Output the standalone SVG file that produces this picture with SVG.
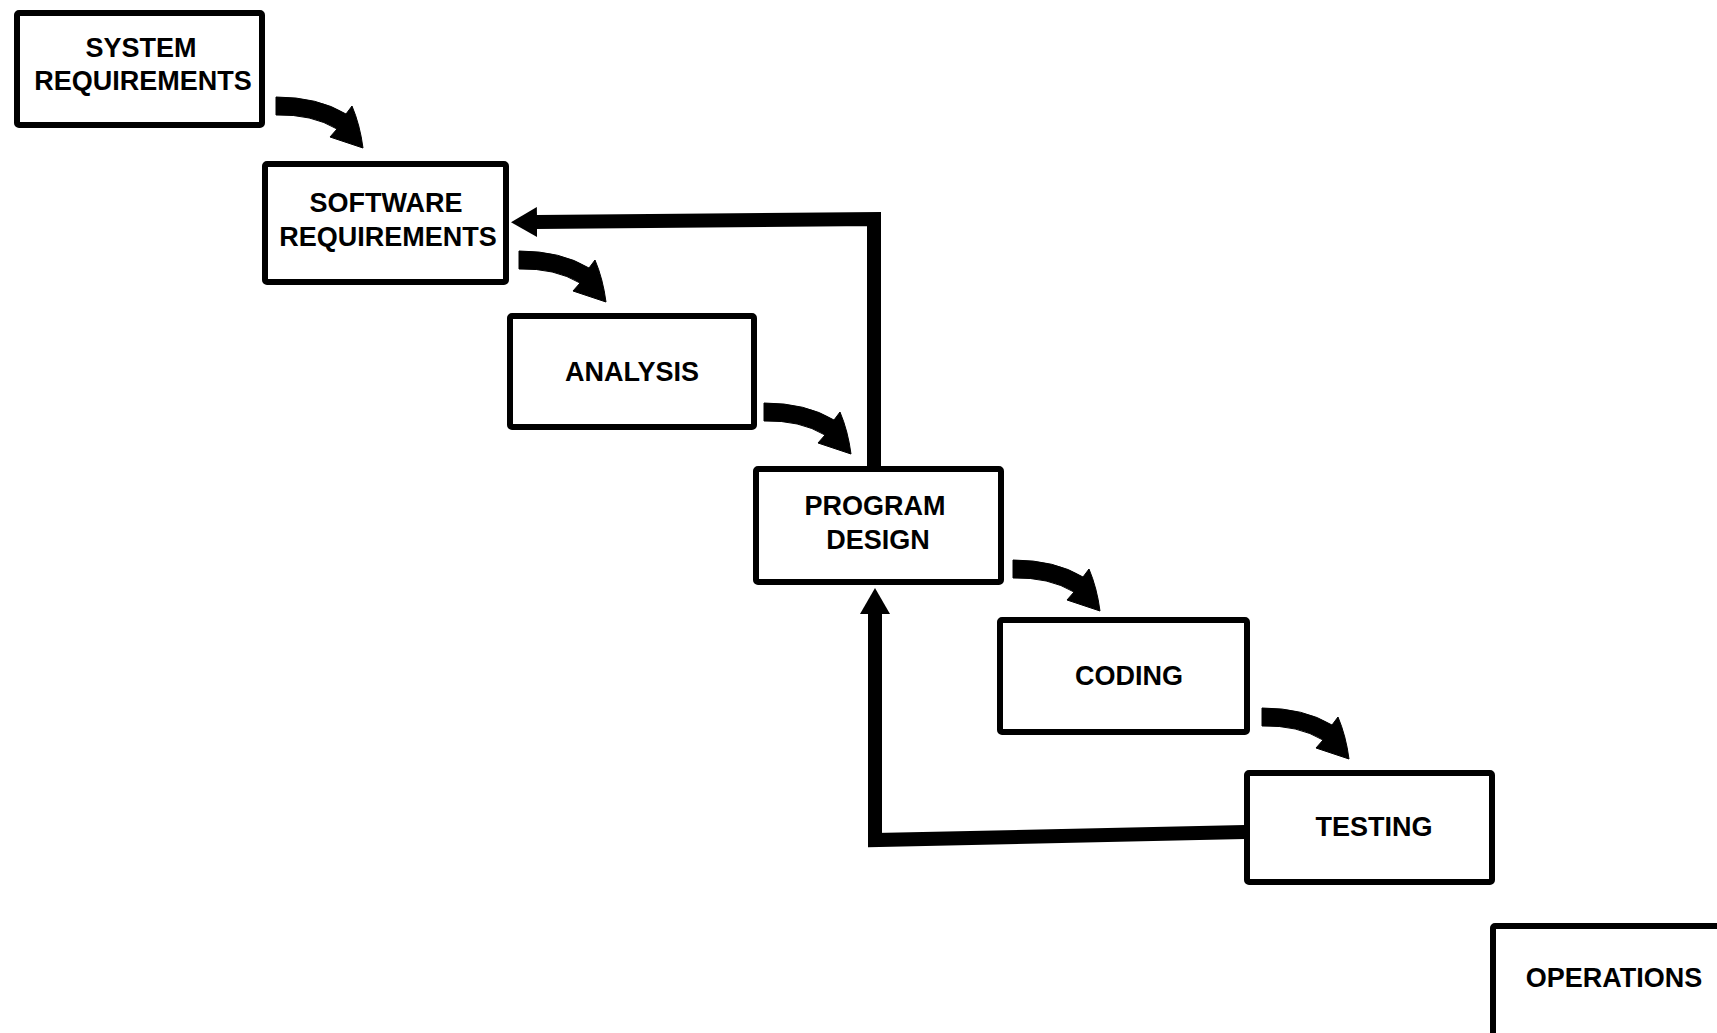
<svg xmlns="http://www.w3.org/2000/svg" width="1717" height="1033" viewBox="0 0 1717 1033">
<style>
.box{fill:#fff;stroke:#000;stroke-width:6;stroke-linejoin:round}
.lbl{font-family:"Liberation Sans",Arial,sans-serif;font-weight:bold;font-size:27px;fill:#000;text-anchor:middle}
.fb{fill:none;stroke:#000;stroke-width:14;stroke-linejoin:miter;stroke-linecap:butt}
.flow{fill:#000;stroke:#000;stroke-width:1;stroke-linejoin:round}
</style>
<defs>
<marker id="head" markerUnits="userSpaceOnUse" markerWidth="26" markerHeight="30" viewBox="0 0 26 30" refX="1" refY="15" orient="auto">
<path d="M0,0 L26,15 L0,30 Z" fill="#000"/>
</marker>
<path id="curved" class="flow" d="M0,0 Q42,0 70,17 L76,9 Q84,28 87,51 L54,40 L61,32 Q36,17 0,18 Z"/>
</defs>
<rect width="1717" height="1033" fill="#fff"/>
<g id="connectors">
<use href="#curved" transform="translate(276,97)"/>
<use href="#curved" transform="translate(519,251)"/>
<use href="#curved" transform="translate(764,403)"/>
<use href="#curved" transform="translate(1013,560)"/>
<use href="#curved" transform="translate(1262,708)"/>
<polyline class="fb" points="874,467 874,219 536,222" marker-end="url(#head)"/>
<polyline class="fb" points="1245,832 875,840 875,613" marker-end="url(#head)"/>
</g>
<g id="system-requirements">
<rect class="box" x="17" y="13" width="245" height="112" rx="2"/>
<text class="lbl" x="141" y="57">SYSTEM</text>
<text class="lbl" x="143" y="90">REQUIREMENTS</text>
</g>
<g id="software-requirements">
<rect class="box" x="265" y="164" width="241" height="118" rx="2"/>
<text class="lbl" x="386" y="212">SOFTWARE</text>
<text class="lbl" x="388" y="246">REQUIREMENTS</text>
</g>
<g id="analysis">
<rect class="box" x="510" y="316" width="244" height="111" rx="2"/>
<text class="lbl" x="632" y="381">ANALYSIS</text>
</g>
<g id="program-design">
<rect class="box" x="756" y="469" width="245" height="113" rx="2"/>
<text class="lbl" x="875" y="515">PROGRAM</text>
<text class="lbl" x="878" y="549">DESIGN</text>
</g>
<g id="coding">
<rect class="box" x="1000" y="620" width="247" height="112" rx="2"/>
<text class="lbl" x="1129" y="685">CODING</text>
</g>
<g id="testing">
<rect class="box" x="1247" y="773" width="245" height="109" rx="2"/>
<text class="lbl" x="1374" y="836">TESTING</text>
</g>
<g id="operations">
<rect class="box" x="1493" y="926" width="300" height="200" rx="2"/>
<text class="lbl" x="1614" y="987">OPERATIONS</text>
</g>
</svg>
